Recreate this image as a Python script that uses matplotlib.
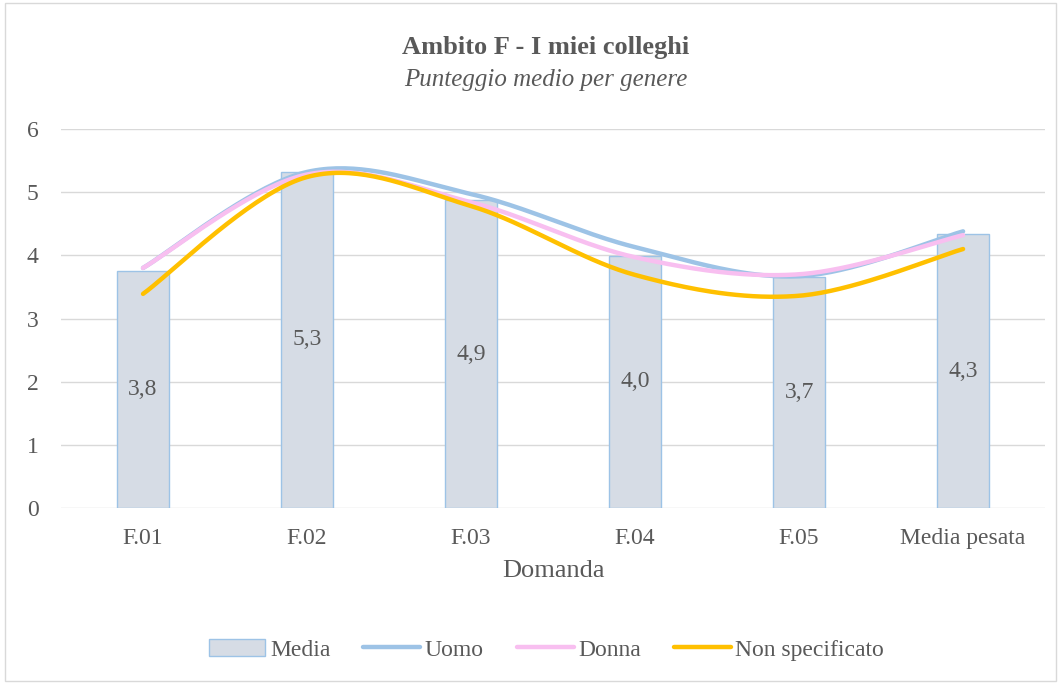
import numpy as np
import matplotlib
matplotlib.use("Agg")
import matplotlib.pyplot as plt
from matplotlib.patches import Rectangle
from matplotlib.lines import Line2D
from matplotlib.patches import Patch

categories = ["F.01", "F.02", "F.03", "F.04", "F.05", "Media pesata"]
media = [3.75, 5.32, 4.87, 3.99, 3.66, 4.33]
media_labels = ["3,8", "5,3", "4,9", "4,0", "3,7", "4,3"]
uomo = [3.80, 5.32, 4.97, 4.13, 3.67, 4.38]
donna = [3.80, 5.28, 4.84, 3.97, 3.70, 4.32]
non_spec = [3.39, 5.24, 4.78, 3.69, 3.36, 4.10]

TXT = "#595959"
FONT = ["Liberation Serif", "DejaVu Serif"]
plt.rcParams["font.family"] = FONT


def smooth(xs, ys, n=40):
    xs = np.asarray(xs, float)
    ys = np.asarray(ys, float)
    P = np.column_stack([xs, ys])
    Pext = np.vstack([P[0], P, P[-1]])
    out = []
    for i in range(len(P) - 1):
        p0, p1, p2, p3 = Pext[i], Pext[i + 1], Pext[i + 2], Pext[i + 3]
        c1 = p1 + (p2 - p0) / 6.0
        c2 = p2 - (p3 - p1) / 6.0
        t = np.linspace(0, 1, n)[:, None]
        seg = ((1 - t) ** 3) * p1 + 3 * ((1 - t) ** 2) * t * c1 + 3 * (1 - t) * t ** 2 * c2 + t ** 3 * p2
        out.append(seg if i == 0 else seg[1:])
    out = np.vstack(out)
    return out[:, 0], out[:, 1]


fig = plt.figure(figsize=(10.61, 6.84), dpi=100)
fig.patches.append(Rectangle((0.005, 0.005), 0.99, 0.99, transform=fig.transFigure,
                             fill=False, edgecolor="#d9d9d9", linewidth=1.0))
ax = fig.add_axes([0.0575, 0.2573, 0.9275, 0.5541])

x = np.arange(len(categories))
ax.bar(x, media, width=0.32, color="#d6dce5", edgecolor="#9dc3e6", linewidth=1.0, zorder=2)
for xi, v, lab in zip(x, media, media_labels):
    ax.text(xi, v / 2, lab, ha="center", va="center", fontsize=17, color=TXT, zorder=5)

for ys, col in [(uomo, "#9dc3e6"), (donna, "#f8bff0"), (non_spec, "#ffc000")]:
    sx, sy = smooth(x, ys)
    ax.plot(sx, sy, color=col, linewidth=3.2, solid_capstyle="round", zorder=3)

ax.set_xlim(-0.5, len(categories) - 0.5)
ax.set_ylim(0, 6)
ax.set_yticks(range(0, 7))
ax.yaxis.grid(True, color="#d9d9d9", linewidth=1.0, zorder=0)
ax.set_axisbelow(True)
for s in ax.spines.values():
    s.set_visible(False)
ax.tick_params(axis="both", length=0, labelsize=17, colors=TXT)
ax.tick_params(axis="x", pad=22)
ax.tick_params(axis="y", pad=16)
ax.set_xticks(x)
ax.set_xticklabels(categories, va="center")
ax.set_xlabel("Domanda", fontsize=19, color=TXT, labelpad=8)

fig.text(0.514, 0.931, "Ambito F - I miei colleghi", ha="center", va="center",
         fontsize=19, fontweight="bold", color=TXT)
fig.text(0.514, 0.883, "Punteggio medio per genere", ha="center", va="center",
         fontsize=18, fontstyle="italic", color=TXT)

handles = [Patch(facecolor="#d6dce5", edgecolor="#9dc3e6", label="Media"),
           Line2D([], [], color="#9dc3e6", linewidth=3.2, solid_capstyle="round", label="Uomo"),
           Line2D([], [], color="#f8bff0", linewidth=3.2, solid_capstyle="round", label="Donna"),
           Line2D([], [], color="#ffc000", linewidth=3.2, solid_capstyle="round", label="Non specificato")]
leg = fig.legend(handles=handles, loc="center", bbox_to_anchor=(0.515, 0.05), ncol=4,
                 frameon=False, fontsize=17, handlelength=2.4, handletextpad=0.2,
                 columnspacing=1.4)
for t in leg.get_texts():
    t.set_color(TXT)

fig.savefig("out.png", dpi=100)
